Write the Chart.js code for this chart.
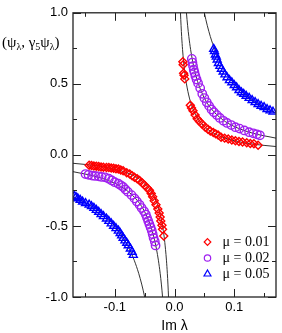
<!DOCTYPE html>
<html>
<head>
<meta charset="utf-8">
<script src="https://cdn.jsdelivr.net/npm/chart.js"></script>
<style>
  html, body { margin: 0; padding: 0; background: #fff; }
  #wrap { width: 282px; height: 333px; position: relative; }
</style>
</head>
<body>
<div id="wrap"><canvas id="chart"></canvas></div>
<script>
// measured points, mu = 0.01 (red diamonds)
const redXPos = [0.0140, 0.0145, 0.0152, 0.0160, 0.0172, 0.0265, 0.0285, 0.0310, 0.0345, 0.0380, 0.0420, 0.0465, 0.0515, 0.0560, 0.0600, 0.0650, 0.0690, 0.0730, 0.0780, 0.0840, 0.0900, 0.0960, 0.1020, 0.1080, 0.1140, 0.1210, 0.1270, 0.1330, 0.1400];
const redYPos = [0.655, 0.635, 0.575, 0.560, 0.535, 0.350, 0.330, 0.310, 0.280, 0.255, 0.235, 0.215, 0.195, 0.180, 0.168, 0.158, 0.148, 0.140, 0.125, 0.118, 0.112, 0.105, 0.100, 0.095, 0.090, 0.085, 0.080, 0.078, 0.068];
const redXNeg = [-0.143, -0.139, -0.135, -0.131, -0.127, -0.123, -0.119, -0.114, -0.110, -0.106, -0.102, -0.098, -0.094, -0.090, -0.086, -0.080, -0.075, -0.071, -0.067, -0.0625, -0.0585, -0.054, -0.050, -0.046, -0.042, -0.039, -0.0366, -0.034, -0.031, -0.028, -0.0257, -0.024, -0.023, -0.021, -0.020, -0.018];
const redYNeg = [-0.073, -0.075, -0.078, -0.080, -0.082, -0.085, -0.087, -0.088, -0.089, -0.092, -0.094, -0.097, -0.100, -0.106, -0.112, -0.125, -0.135, -0.146, -0.158, -0.168, -0.180, -0.197, -0.214, -0.232, -0.249, -0.272, -0.295, -0.322, -0.351, -0.380, -0.409, -0.437, -0.466, -0.495, -0.523, -0.570];

// mu = 0.02 (purple circles)
const purpleXPos = [0.0290, 0.0300, 0.0310, 0.0322, 0.0335, 0.0350, 0.0370, 0.0395, 0.0430, 0.0465, 0.0500, 0.0540, 0.0580, 0.0620, 0.0660, 0.0710, 0.0760, 0.0820, 0.0880, 0.0950, 0.1020, 0.1090, 0.1170, 0.1250, 0.1320, 0.1380, 0.1430];
const purpleYPos = [0.676, 0.650, 0.625, 0.600, 0.580, 0.555, 0.530, 0.505, 0.470, 0.430, 0.400, 0.370, 0.345, 0.320, 0.300, 0.280, 0.260, 0.240, 0.225, 0.210, 0.195, 0.185, 0.172, 0.160, 0.152, 0.145, 0.138];
const purpleXNeg = [-0.149, -0.144, -0.138, -0.133, -0.127, -0.122, -0.116, -0.110, -0.105, -0.100, -0.094, -0.090, -0.086, -0.082, -0.078, -0.072, -0.067, -0.063, -0.0585, -0.055, -0.051, -0.048, -0.046, -0.044, -0.042, -0.040, -0.038, -0.0365, -0.035, -0.033, -0.0317];
const purpleYNeg = [-0.135, -0.140, -0.146, -0.148, -0.151, -0.155, -0.158, -0.168, -0.180, -0.192, -0.203, -0.214, -0.226, -0.243, -0.260, -0.283, -0.306, -0.328, -0.351, -0.374, -0.397, -0.420, -0.443, -0.465, -0.488, -0.511, -0.534, -0.559, -0.584, -0.610, -0.637];

// mu = 0.05 (blue triangles)
const blueXPos = [0.0656, 0.0670, 0.0685, 0.0700, 0.0715, 0.0735, 0.0760, 0.0785, 0.0815, 0.0845, 0.0880, 0.0920, 0.0960, 0.1000, 0.1040, 0.1080, 0.1120, 0.1160, 0.1200, 0.1250, 0.1300, 0.1350, 0.1400, 0.1450, 0.1500, 0.1550, 0.1600, 0.1650];
const blueYPos = [0.745, 0.730, 0.705, 0.690, 0.670, 0.645, 0.625, 0.605, 0.585, 0.565, 0.545, 0.525, 0.510, 0.490, 0.475, 0.455, 0.440, 0.428, 0.415, 0.400, 0.385, 0.370, 0.357, 0.345, 0.335, 0.322, 0.312, 0.303];
const blueXNeg = [-0.168, -0.165, -0.162, -0.158, -0.154, -0.149, -0.143, -0.139, -0.135, -0.131, -0.127, -0.123, -0.119, -0.114, -0.110, -0.106, -0.102, -0.098, -0.094, -0.091, -0.0885, -0.086, -0.083, -0.080, -0.0775, -0.074, -0.071, -0.069];
const blueYNeg = [-0.290, -0.297, -0.306, -0.317, -0.329, -0.340, -0.351, -0.362, -0.374, -0.388, -0.402, -0.417, -0.432, -0.449, -0.466, -0.483, -0.500, -0.517, -0.534, -0.551, -0.568, -0.585, -0.603, -0.620, -0.637, -0.660, -0.683, -0.705];

// black reference curves
const curveRedXPos = [0.0100, 0.0105, 0.0110, 0.0120, 0.0135, 0.0150, 0.0175, 0.0200, 0.0250, 0.0300, 0.0400, 0.0500, 0.0650, 0.0800, 0.1000, 0.1250, 0.1500, 0.1700];
const curveRedYPos = [1.000, 0.952, 0.909, 0.833, 0.741, 0.667, 0.571, 0.500, 0.400, 0.333, 0.250, 0.200, 0.154, 0.125, 0.100, 0.080, 0.067, 0.059];
const curveRedXNeg = [-0.1700, -0.1500, -0.1250, -0.1000, -0.0800, -0.0650, -0.0500, -0.0400, -0.0300, -0.0250, -0.0200, -0.0175, -0.0150, -0.0135, -0.0120, -0.0110, -0.0105, -0.0100];
const curveRedYNeg = [-0.059, -0.067, -0.080, -0.100, -0.125, -0.154, -0.200, -0.250, -0.333, -0.400, -0.500, -0.571, -0.667, -0.741, -0.833, -0.909, -0.952, -1.000];
const curvePurpleXPos = [0.020, 0.021, 0.022, 0.024, 0.027, 0.030, 0.035, 0.040, 0.050, 0.060, 0.080, 0.100, 0.130, 0.170];
const curvePurpleYPos = [1.000, 0.952, 0.909, 0.833, 0.741, 0.667, 0.571, 0.500, 0.400, 0.333, 0.250, 0.200, 0.154, 0.118];
const curvePurpleXNeg = [-0.170, -0.130, -0.100, -0.080, -0.060, -0.050, -0.040, -0.035, -0.030, -0.027, -0.024, -0.022, -0.021, -0.020];
const curvePurpleYNeg = [-0.118, -0.154, -0.200, -0.250, -0.333, -0.400, -0.500, -0.571, -0.667, -0.741, -0.833, -0.909, -0.952, -1.000];
const curveBlueXPos = [0.0500, 0.0525, 0.0550, 0.0600, 0.0675, 0.0750, 0.0875, 0.1000, 0.1200, 0.1400, 0.1700];
const curveBlueYPos = [1.000, 0.952, 0.909, 0.833, 0.741, 0.667, 0.571, 0.500, 0.417, 0.357, 0.294];
const curveBlueXNeg = [-0.1700, -0.1400, -0.1200, -0.1000, -0.0875, -0.0750, -0.0675, -0.0600, -0.0550, -0.0525, -0.0500];
const curveBlueYNeg = [-0.294, -0.357, -0.417, -0.500, -0.571, -0.667, -0.741, -0.833, -0.909, -0.952, -1.000];

const legendLabels = ['\u03bc = 0.01', '\u03bc = 0.02', '\u03bc = 0.05'];
const xMajorTicks = [-0.1, 0.0, 0.1];
const xMinorTicks = [-0.15, -0.05, 0.05, 0.15];
const yMajorTicks = [-1.0, -0.5, 0.0, 0.5, 1.0];
const yMinorTicks = [-0.75, -0.25, 0.25, 0.75];

const RED = '#ff0000';
const PURPLE = '#a020f0';
const BLUE = '#0000ff';
const CURVE = '#333333';

function pts(xs, ys) {
    return xs.map((x, i) => ({ x: x, y: ys[i] }));
}

function markers(xs, ys, color, style, radius) {
    return {
        data: pts(xs, ys),
        showLine: false,
        pointStyle: style,
        pointRadius: radius,
        pointBorderColor: color,
        pointBackgroundColor: 'rgba(0,0,0,0)',
        pointBorderWidth: 1.4,
        order: 0,
    };
}

function curve(xs, ys) {
    return {
        data: pts(xs, ys),
        showLine: true,
        borderColor: CURVE,
        borderWidth: 1,
        pointRadius: 0,
        cubicInterpolationMode: 'monotone',
        fill: false,
        order: 1,
    };
}

// little symbol painter for the in-plot legend
function drawSymbol(ctx, style, x, y, r) {
    ctx.beginPath();
    if (style === 'rectRot') {
        ctx.moveTo(x, y - r);
        ctx.lineTo(x + r, y);
        ctx.lineTo(x, y + r);
        ctx.lineTo(x - r, y);
        ctx.closePath();
    } else if (style === 'circle') {
        ctx.arc(x, y, r, 0, Math.PI * 2);
    } else {
        const h = r * 1.5;
        const w = r * Math.sqrt(3) / 2;
        ctx.moveTo(x, y - r);
        ctx.lineTo(x + w, y + h - r);
        ctx.lineTo(x - w, y + h - r);
        ctx.closePath();
    }
    ctx.stroke();
}

const framePlugin = {
    id: 'frame',
    afterDraw(chart) {
        const ctx = chart.ctx;
        const a = chart.chartArea;
        const xs = chart.scales.x;
        const ys = chart.scales.y;
        ctx.save();
        ctx.strokeStyle = '#222';
        ctx.lineWidth = 1.3;
        ctx.strokeRect(a.left, a.top, a.right - a.left, a.bottom - a.top);

        // inward ticks on all four sides
        ctx.lineWidth = 1;
        ctx.beginPath();
        const tickX = (vals, len) => vals.forEach(v => {
            const px = Math.round(xs.getPixelForValue(v)) + 0.5;
            ctx.moveTo(px, a.bottom); ctx.lineTo(px, a.bottom - len);
            ctx.moveTo(px, a.top); ctx.lineTo(px, a.top + len);
        });
        const tickY = (vals, len) => vals.forEach(v => {
            const py = Math.round(ys.getPixelForValue(v)) + 0.5;
            ctx.moveTo(a.left, py); ctx.lineTo(a.left + len, py);
            ctx.moveTo(a.right, py); ctx.lineTo(a.right - len, py);
        });
        tickX(xMajorTicks, 8);
        tickX(xMinorTicks, 4);
        tickY(yMajorTicks, 8);
        tickY(yMinorTicks, 4);
        ctx.stroke();

        // x axis title
        ctx.fillStyle = '#000';
        ctx.font = '14px "Liberation Sans", Arial, sans-serif';
        ctx.textAlign = 'center';
        ctx.textBaseline = 'middle';
        ctx.fillText('Im \u03bb', xs.getPixelForValue(0), 326);

        // y axis title with subscripts
        ctx.textAlign = 'left';
        ctx.textBaseline = 'alphabetic';
        const base = 47;
        let cx = 2;
        const parts = [
            ['(\u03c8', 0], ['\u03bb', 1], [', \u03b3', 0], ['5', 1],
            ['\u03c8', 0], ['\u03bb', 1], [')', 0],
        ];
        parts.forEach(([t, sub]) => {
            ctx.font = sub ? '10px "Liberation Serif", serif' : '15px "Liberation Serif", serif';
            ctx.fillText(t, cx, sub ? base + 3 : base);
            cx += ctx.measureText(t).width;
        });

        // legend inside the plot
        const colors = [RED, PURPLE, BLUE];
        const styles = ['rectRot', 'circle', 'triangle'];
        const radii = [3.3, 3.2, 4];
        ctx.font = '14px "Liberation Serif", serif';
        ctx.textBaseline = 'middle';
        legendLabels.forEach((lab, i) => {
            const y = 242 + i * 16;
            ctx.strokeStyle = colors[i];
            ctx.lineWidth = 1.2;
            drawSymbol(ctx, styles[i], 207.5, y, radii[i]);
            ctx.fillStyle = '#000';
            ctx.fillText(lab, 222.5, y + 0.5);
        });
        ctx.restore();
    }
};

function tickLabel(step) {
    return function (v) {
        const k = v / step;
        if (Math.abs(k - Math.round(k)) < 1e-6) {
            return (Math.abs(v) < 1e-9 ? 0 : v).toFixed(1);
        }
        return '';
    };
}

new Chart(document.getElementById('chart'), {
    type: 'scatter',
    data: {
        datasets: [
            markers(redXPos, redYPos, RED, 'rectRot', 4),
            markers(redXNeg, redYNeg, RED, 'rectRot', 4),
            markers(purpleXPos, purpleYPos, PURPLE, 'circle', 4.2),
            markers(purpleXNeg, purpleYNeg, PURPLE, 'circle', 4.2),
            markers(blueXPos, blueYPos, BLUE, 'triangle', 4.6),
            markers(blueXNeg, blueYNeg, BLUE, 'triangle', 4.6),
            curve(curveRedXPos, curveRedYPos),
            curve(curveRedXNeg, curveRedYNeg),
            curve(curvePurpleXPos, curvePurpleYPos),
            curve(curvePurpleXNeg, curvePurpleYNeg),
            curve(curveBlueXPos, curveBlueYPos),
            curve(curveBlueXNeg, curveBlueYNeg),
        ],
    },
    options: {
        responsive: true,
        maintainAspectRatio: false,
        animation: false,
        events: [],
        layout: { padding: { top: 6, right: 3, left: 0, bottom: 0 } },
        plugins: {
            legend: { display: false },
            tooltip: { enabled: false },
        },
        scales: {
            x: {
                type: 'linear',
                min: -0.17,
                max: 0.17,
                grid: { display: false, drawTicks: false },
                border: { display: false },
                ticks: {
                    stepSize: 0.05,
                    autoSkip: false,
                    maxRotation: 0,
                    padding: 3,
                    color: '#000',
                    font: { family: '"Liberation Sans", Arial, sans-serif', size: 13 },
                    callback: tickLabel(0.1),
                },
                afterFit: (s) => { s.height = 36; },
            },
            y: {
                type: 'linear',
                min: -1,
                max: 1,
                grid: { display: false, drawTicks: false },
                border: { display: false },
                ticks: {
                    stepSize: 0.25,
                    autoSkip: false,
                    padding: 5,
                    color: '#000',
                    font: { family: '"Liberation Sans", Arial, sans-serif', size: 13 },
                    callback: tickLabel(0.5),
                },
                afterFit: (s) => { s.width = 73; },
            },
        },
    },
    plugins: [framePlugin],
});
</script>
</body>
</html>
